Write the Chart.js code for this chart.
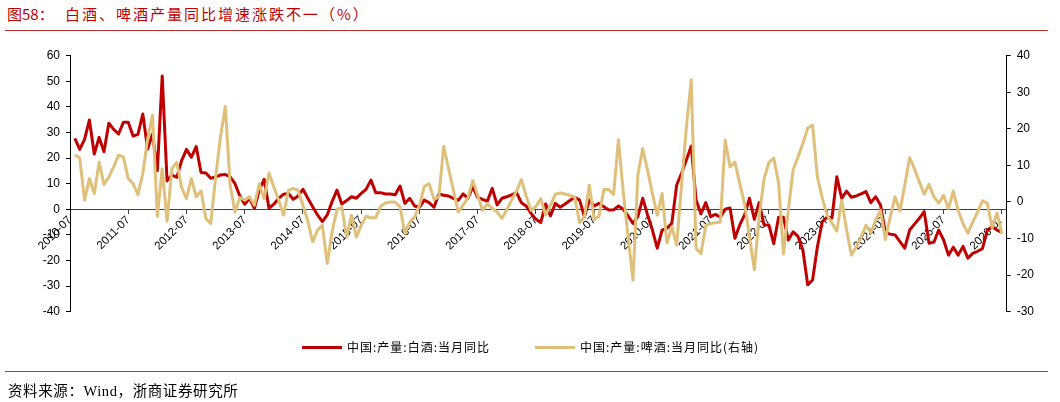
<!DOCTYPE html>
<html>
<head>
<meta charset="utf-8">
<script src="https://cdn.jsdelivr.net/npm/chart.js@4.4.1/dist/chart.umd.min.js"></script>
<style>
  body { margin:0; width:1060px; height:402px; position:relative; background:#fff; overflow:hidden; }
  .abs { position:absolute; white-space:nowrap; }
  #titulo { left:7px; top:3px; font:15px "Noto Sans CJK SC", sans-serif; color:#C00000; }
  #titulo span { position:absolute; left:58px; letter-spacing:2px; }
  .linea { position:absolute; left:5px; width:1043px; height:1px; background:#B8312F; }
  .leyenda { font:12px "Noto Sans CJK SC", sans-serif; color:#000; letter-spacing:1px; }
  .muestra { position:absolute; height:3px; width:40px; }
  #fuente { left:8px; top:379px; font:14.5px "Liberation Serif", "Noto Sans CJK SC", serif; color:#000; letter-spacing:0.6px; }
  #wrap { position:absolute; left:0; top:0; width:1060px; height:402px; }
</style>
</head>
<body>
<div id="titulo" class="abs">图58：<span>白酒、啤酒产量同比增速涨跌不一（%）</span></div>
<div class="linea" style="top:30px;"></div>

<div id="wrap"><canvas id="grafico"></canvas></div>

<div class="muestra" style="left:302px; top:346px; background:#C00000;"></div>
<div class="abs leyenda" style="left:347px; top:338px;">中国:产量:白酒:当月同比</div>
<div class="muestra" style="left:535px; top:346px; background:#DFC07A;"></div>
<div class="abs leyenda" style="left:580px; top:338px;">中国:产量:啤酒:当月同比(右轴)</div>

<div class="linea" style="top:371px;"></div>
<div id="fuente" class="abs">资料来源：Wind，浙商证券研究所</div>

<script>
// meses del eje: 2010-07 ... 2026-08
const mesInicio = { anio: 2010, mes: 7 };
const totalMeses = 194;

// 白酒 当月同比 (eje izquierdo), posicion 0 = 2010-07
const baijiu = [
  null, 27.7, 23.4, 27.3, 34.9, 21.6, 28.1, 22.5, 33.6, 31.2,
  29.4, 34, 34, 28.6, 29.3, 37.2, 23.5, 29.4, 15.1, 52.1,
  11.1, 13.4, 12.5, 19, 23.4, 20.3, 24.5, 14.4, 14.2, 12.1,
  12.7, 13.4, 13.6, 12.7, 10, 5.2, 2, 4.3, 0.4, 7.5,
  11.7, 0.4, 2, 4.3, 5.9, 6.2, 3.9, 5.2, 7.8, 4.3,
  1, -2.2, -4.8, -2.2, 3, 7.5, 2.1, 3.4, 4.9, 4.3,
  6.2, 7.8, 11.4, 6.5, 6.5, 6, 6, 5.7, 9.1, 2.3,
  4.3, 1.3, 0.8, 3.6, 2.6, 0.8, 6, 5.5, 5.2, 4.3,
  3.5, 6, 4.3, 8.8, 4.7, 3.9, 3.2, 8.2, 1.7, 4.3,
  4.9, 5.6, 6.5, 2.6, 1.3, -1.6, -3.9, -5.2, 2.1, -2.6,
  2.3, 0.8, 2.1, 3.4, 4.7, 3.6, -2.9, 3.6, 1.3, 2.3,
  1, -0.3, -0.2, 1.3, 0, -2.6, -5.5, -2.9, 4.3, -2.2,
  -8.1, -15.2, -8.1, -7.4, -5.5, 9.5, 14.1, 19.3, 24.7, 3.6,
  -1.8, 2.6, -2.9, -2, -3.1, 0, 0.5, -11.3, -6.1, -2.2,
  4.3, -3.9, 2.6, -6.1, -6.1, -13.4, -3.1, -3.1, -12, -8.8,
  -10.6, -15.9, -29.5, -27.6, -14.6, -4.8, -3.1, -3.4, 12.7, 4.3,
  7.1, 4.7, 5.2, 6, 6.9, 2.6, 4.9, 1.7, -9, -9.7,
  -10, -12.6, -15.2, -8.1, -5.8, -3.5, -0.9, -13.3, -12.8, -8.1,
  -12, -17.9, -14.8, -17.9, -14.5, -19.1, -17.2, -16.4, -15.4, -8.1,
  -6.8, -8.1, -9
];

// 啤酒 当月同比 (eje derecho)
const pijiu = [
  null, 12.8, 12.1, 0.5, 6.4, 2.3, 10.9, 4.8, 6.8, 9.6,
  12.8, 12.3, 6.4, 5, 2, 7.8, 17.3, 23.7, -3.9, 9.1,
  -5.2, 9.1, 10.9, 3.9, 0.9, 6.4, 1.4, 3, -4.5, -5.9,
  6.7, 17.8, 26.1, 4.6, -2.7, 1.2, 0.5, 1.4, -0.9, 5,
  0.9, 7.9, 4.1, 0.5, -3.6, 3.2, 3.7, 3.2, -0.9, -5.2,
  -10.9, -7.7, -6.4, -16.8, -8.2, -2.1, -1.5, -9.6, -3.6, -9.6,
  -6.4, -3.9, -4.3, -4.3, -1.2, -0.3, 0, 0, -1.4, -8.6,
  -5.5, -4.1, -0.9, 4.3, 5, 0.7, 1.4, 15.2, 9.1, 3.2,
  -2.7, -0.9, 1.2, 5.9, 1.8, -2.3, -0.4, -1.8, -2.7, -4.5,
  -2.1, 0.5, 3, 6.1, 1.6, -2.3, -1.2, 0.9, -3.6, -0.9,
  2.1, 2.5, 2.2, 1.8, 1.4, -5.7, -4.1, 4.6, -4.8, -3.9,
  3.4, 3.4, 2.1, 17, 2.7, -9.6, -21.4, 7.3, 14.6, 8.7,
  2.3, -3.6, 2.3, -11.2, -6.8, -11.8, 4.6, 20.5, 33.4, -12.7,
  -14.1, -6.4, -5.9, -5.7, -5.5, 16.9, 9.6, 10.9, 5, -0.5,
  -9.5, -18.5, -4, 6.3, 10.8, 12, 5.2, -14.2, -2.3, 8.9,
  12.3, 16, 20.2, 21, 6.8, 1.1, -3.6, -5.8, -8, 0.5,
  -7.5, -14.5, -12.3, -9.6, -6.4, -8.5, -5, -2.3, -10.3, -4.1,
  1.4, -2.5, 4.6, 12.1, 9.1, 5.5, 2.1, 4.8, 1.4, -0.3,
  1.8, -1.8, 3, -2.3, -5.9, -8.5, -5.5, -2.7, 0.3, -0.3,
  -7, -3, -8.7
];

const rojo = '#C00000';
const dorado = '#DFC07A';
const fuenteX = { family: '"Liberation Sans", Arial, sans-serif', size: 11.5 };
const fuenteY = { family: '"Liberation Sans", Arial, sans-serif', size: 12 };

const meses = [];
for (let i = 0; i < totalMeses; i++) {
    const m = mesInicio.mes - 1 + i;
    const anio = mesInicio.anio + Math.floor(m / 12);
    const mes = (m % 12) + 1;
    meses.push(anio + '-' + (mes < 10 ? '0' + mes : mes));
}

const ctx = document.getElementById('grafico').getContext('2d');
new Chart(ctx, {
    type: 'line',
    data: {
        labels: meses,
        datasets: [
            { label: '中国:产量:白酒:当月同比', data: baijiu, yAxisID: 'y', borderColor: rojo, borderWidth: 3, pointRadius: 0, tension: 0, borderJoinStyle: 'round', order: 2 },
            { label: '中国:产量:啤酒:当月同比(右轴)', data: pijiu, yAxisID: 'y1', borderColor: dorado, borderWidth: 3, pointRadius: 0, tension: 0, borderJoinStyle: 'round', order: 1 }
        ]
    },
    options: {
        responsive: true, maintainAspectRatio: false, animation: false,
        layout: { padding: { top: 55.7, bottom: 90.3, left: 0, right: 0 } },
        plugins: { legend: { display: false }, tooltip: { enabled: false } },
        scales: {
            x: {
                type: 'category',
                position: { y: 0 },
                grid: {
                    drawOnChartArea: false, drawTicks: true, tickLength: 4,
                    color: c => (c.index % 12 === 0 ? '#404040' : 'rgba(0,0,0,0)')
                },
                border: { display: true, color: '#404040', width: 1 },
                ticks: {
                    autoSkip: false, maxRotation: 45, minRotation: 45, padding: 0,
                    color: '#000', font: fuenteX,
                    callback: (v, i) => (i % 12 === 0 ? meses[i] : '')
                }
            },
            y: {
                position: 'left', min: -40, max: 60,
                afterFit: s => { s.width = 70; },
                grid: { drawOnChartArea: false, drawTicks: true, tickLength: 4, color: '#000' },
                border: { display: true, color: '#000', width: 1 },
                ticks: { stepSize: 10, color: '#000', font: fuenteY, padding: 6 }
            },
            y1: {
                position: 'right', min: -30, max: 40,
                afterFit: s => { s.width = 53.3; },
                grid: { drawOnChartArea: false, drawTicks: true, tickLength: 4, color: '#000' },
                border: { display: true, color: '#000', width: 1 },
                ticks: { stepSize: 10, color: '#000', font: fuenteY, padding: 6 }
            }
        }
    }
});
</script>
</body>
</html>
